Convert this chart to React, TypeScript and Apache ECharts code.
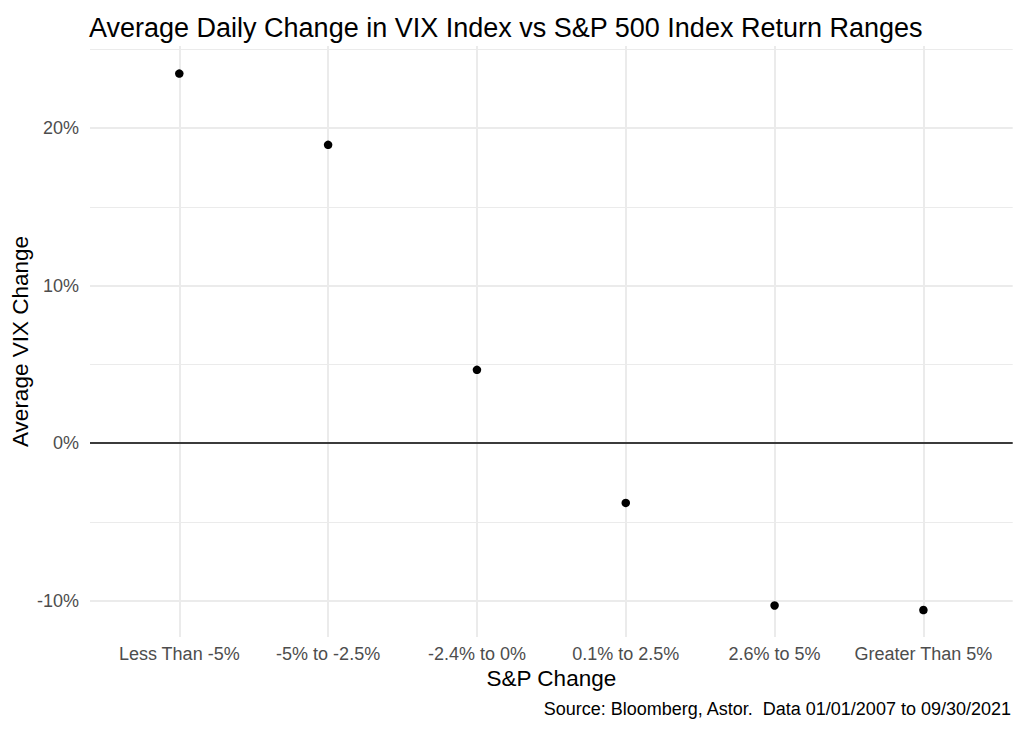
import React, { useEffect, useRef } from "react";
import * as echarts from "echarts";

const categories = [
  "Less Than -5%",
  "-5% to -2.5%",
  "-2.4% to 0%",
  "0.1% to 2.5%",
  "2.6% to 5%",
  "Greater Than 5%",
];
const vixChange = [23.45, 18.93, 4.65, -3.79, -10.3, -10.59];
const yMajorTicks = [-10, 0, 10, 20];
const yMinorTicks = [-5, 5, 15, 25];

const titleText = "Average Daily Change in VIX Index vs S&P 500 Index Return Ranges";
const xName = "S&P Change";
const yName = "Average VIX Change";
const captionText = "Source: Bloomberg, Astor.  Data 01/01/2007 to 09/30/2021";

const FONT = "'Liberation Sans', Arial, sans-serif";

export default function App() {
  const ref = useRef<HTMLDivElement>(null);

  useEffect(() => {
    if (!ref.current) return;
    const chart = echarts.init(ref.current, undefined, { renderer: "svg" });
    const points = vixChange.map((v, i) => [i, v]);
    const catIdx = categories.map((_, i) => i);
    const yMin = -12.3;
    const yMax = 25.2;

    chart.setOption({
      animation: false,
      backgroundColor: "#ffffff",
      textStyle: { fontFamily: FONT },
      title: {
        text: titleText,
        left: 84,
        top: 9,
        textStyle: { fontFamily: FONT, fontSize: 27, fontWeight: "normal", color: "#000000" },
      },
      grid: {
        left: 90,
        right: 11.3,
        top: 46,
        bottom: 93,
        containLabel: false,
        outerBoundsMode: "none",
      },
      xAxis: {
        type: "value",
        min: -0.6,
        max: 5.6,
        name: xName,
        nameLocation: "middle",
        nameGap: 30,
        nameMoveOverlap: false,
        nameTextStyle: { fontFamily: FONT, fontSize: 22.5, color: "#000000" },
        axisLine: { show: false },
        axisTick: { show: false, customValues: catIdx },
        axisLabel: {
          customValues: catIdx,
          margin: 8,
          fontFamily: FONT,
          fontSize: 18,
          color: "#4d4d4d",
          formatter: (v: number) => categories[Math.round(v)] ?? "",
        },
        splitLine: { show: true, lineStyle: { color: "#ebebeb", width: 2 } },
      },
      yAxis: [
        {
          type: "value",
          min: yMin,
          max: yMax,
          name: yName,
          nameLocation: "middle",
          nameGap: 58,
          nameMoveOverlap: false,
          nameTextStyle: { fontFamily: FONT, fontSize: 22.5, color: "#000000" },
          axisLine: { show: false },
          axisTick: { show: false, customValues: yMajorTicks },
          axisLabel: {
            customValues: yMajorTicks,
            margin: 11,
            fontFamily: FONT,
            fontSize: 18,
            color: "#4d4d4d",
            formatter: (v: number) => `${v}%`,
          },
          splitLine: { show: true, lineStyle: { color: "#ebebeb", width: 2 } },
        },
        {
          type: "value",
          min: yMin,
          max: yMax,
          position: "left",
          axisLine: { show: false },
          axisTick: { show: false, customValues: yMinorTicks },
          axisLabel: { show: false, customValues: yMinorTicks },
          splitLine: { show: true, lineStyle: { color: "#ebebeb", width: 1.2 } },
        },
      ],
      series: [
        {
          type: "scatter",
          data: points,
          symbol: "circle",
          symbolSize: 8.5,
          itemStyle: { color: "#000000", opacity: 1 },
          silent: true,
          markLine: {
            silent: true,
            symbol: "none",
            label: { show: false },
            lineStyle: { color: "#000000", width: 1.6, type: "solid", opacity: 1 },
            data: [{ yAxis: 0 }],
          },
          z: 5,
        },
      ],
      graphic: [
        {
          type: "text",
          right: 12,
          top: 700,
          style: {
            text: captionText,
            fontFamily: FONT,
            fontSize: 18,
            fill: "#000000",
          },
        },
      ],
    });

    return () => chart.dispose();
  }, []);

  return (
    <div
      ref={ref}
      style={{ position: "fixed", left: 0, top: 0, width: 1024, height: 730, background: "#fff" }}
    />
  );
}
